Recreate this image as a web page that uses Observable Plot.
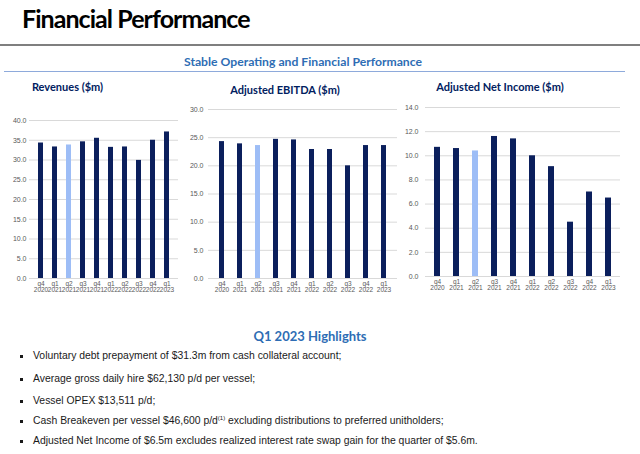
<!DOCTYPE html>
<html>
<head>
<meta charset="utf-8">
<script src="https://cdn.jsdelivr.net/npm/d3@7"></script>
<script src="https://cdn.jsdelivr.net/npm/@observablehq/plot@0.6"></script>
<style>
  html, body { margin: 0; padding: 0; background: #fff; }
  #page { position: relative; width: 640px; height: 454px; overflow: hidden; background: #fff; font-family: "Liberation Sans", Arial, sans-serif; }
  .abs { position: absolute; white-space: nowrap; }
  .cal { font-family: Lato, "Open Sans", sans-serif; font-weight: 700; }
  .chart { position: absolute; }
  .bullet { position: absolute; left: 20px; width: 3px; height: 3px; background: #1a1a1a; }
  .btext { position: absolute; left: 33px; font-size: 10.4px; color: #1a1a1a; white-space: nowrap; }
</style>
</head>
<body>
<div id="page">
  <div class="abs cal" id="title" style="left:22px; top:3px; font-size:25px; color:#000; letter-spacing:-0.95px;">Financial Performance</div>
  <div class="abs" style="left:0; top:44px; width:640px; height:1.5px; background:#7f7f7f;"></div>
  <div class="abs cal" style="left:103px; width:400px; text-align:center; top:54px; font-size:12.2px; color:#2e6db4;">Stable Operating and Financial Performance</div>
  <div class="abs" style="left:4px; top:71px; width:621px; height:1px; background:#8eaadb;"></div>

  <div class="abs cal" style="left:0; width:135px; text-align:center; top:80px; font-size:11px; color:#002060;">Revenues ($m)</div>
  <div class="abs cal" style="left:185px; width:200px; text-align:center; top:83px; font-size:11px; color:#002060;">Adjusted EBITDA ($m)</div>
  <div class="abs cal" style="left:400px; width:200px; text-align:center; top:80px; font-size:11px; color:#002060;">Adjusted Net Income ($m)</div>

  <div class="chart" id="c1" style="left:0; top:100px;"></div>
  <div class="chart" id="c2" style="left:185px; top:100px;"></div>
  <div class="chart" id="c3" style="left:400px; top:100px;"></div>

  <div class="abs cal" style="left:210px; width:200px; text-align:center; top:328px; font-size:13px; color:#2e6db4;">Q1 2023 Highlights</div>
  <div id="bullets"></div>
</div>
<script>
// ---- data ----
const quarters = ["q4 2020", "q1 2021", "q2 2021", "q3 2021", "q4 2021", "q1 2022", "q2 2022", "q3 2022", "q4 2022", "q1 2023"];
const revenues = [34.3, 33.3, 33.8, 34.6, 35.5, 33.2, 33.3, 29.9, 35.0, 37.1];
const ebitda = [24.3, 23.9, 23.6, 24.7, 24.6, 22.9, 22.9, 20.0, 23.6, 23.6];
const netIncome = [10.7, 10.6, 10.4, 11.6, 11.4, 10.0, 9.1, 4.5, 7.0, 6.5];
const highlightQuarter = "q2 2021";
const revTicks = [0, 5, 10, 15, 20, 25, 30, 35, 40];
const ebitdaTicks = [0, 5, 10, 15, 20, 25, 30];
const niTicks = [0, 2, 4, 6, 8, 10, 12, 14];
const highlights = [
  "Voluntary debt prepayment of $31.3m from cash collateral account;",
  "Average gross daily hire $62,130 p/d per vessel;",
  "Vessel OPEX $13,511 p/d;",
  "Cash Breakeven per vessel $46,600 p/d<sup>(1)</sup> excluding distributions to preferred unitholders;",
  "Adjusted Net Income of $6.5m excludes realized interest rate swap gain for the quarter of $5.6m."
];

const NAVY = "#0b1f5c";
const LIGHT = "#9dbdf6";
const GRID = "#d9d9d9";

function makeChart(values, ticks, o) {
  const data = quarters.map((q, i) => ({q, v: values[i]}));
  const pi = o.pi;
  return Plot.plot({
    width: o.width, height: o.height,
    marginLeft: o.ml, marginRight: o.mr, marginTop: o.mt, marginBottom: o.mb,
    style: {fontFamily: '"Liberation Sans", Arial, sans-serif', fontSize: "7px", color: "#595959", background: "transparent", overflow: "visible"},
    x: {domain: quarters, paddingInner: pi, paddingOuter: pi / 2, axis: null},
    y: {domain: [0, ticks[ticks.length - 1]], axis: null},
    marks: [
      Plot.gridY(ticks, {stroke: GRID, strokeOpacity: 1, strokeWidth: 1}),
      Plot.barY(data.filter(d => d.q !== highlightQuarter), {x: "q", y: "v", fill: NAVY}),
      Plot.barY(data.filter(d => d.q === highlightQuarter), {x: "q", y: "v", fill: LIGHT}),
      Plot.axisY(ticks, {tickSize: 0, tickPadding: o.tp, tickFormat: d3.format(".1f"), label: null, fill: "#595959", fontSize: 7}),
      Plot.axisX({tickSize: 0, tickPadding: 2.5, tickFormat: d => d.replace(" ", "\n"), label: null, fill: "#595959", fontSize: 6.5, lineHeight: 1})
    ]
  });
}

document.getElementById("c1").appendChild(makeChart(revenues, revTicks, {width: 185, height: 200, ml: 29, mr: 7, mt: 20, mb: 22, pi: 0.66, tp: 3}));
document.getElementById("c2").appendChild(makeChart(ebitda, ebitdaTicks, {width: 215, height: 200, ml: 23, mr: 3, mt: 9, mb: 22, pi: 0.7, tp: 5}));
document.getElementById("c3").appendChild(makeChart(netIncome, niTicks, {width: 240, height: 200, ml: 25, mr: 20, mt: 7, mb: 24, pi: 0.69, tp: 7}));

const tops = [350, 373, 395, 415, 435];
const b = document.getElementById("bullets");
highlights.forEach((t, i) => {
  const sq = document.createElement("div");
  sq.className = "bullet";
  sq.style.top = (tops[i] + 5) + "px";
  b.appendChild(sq);
  const tx = document.createElement("div");
  tx.className = "btext";
  tx.style.top = tops[i] + "px";
  tx.innerHTML = t.replace("<sup>", '<sup style="font-size:6px; vertical-align:4px;">');
  b.appendChild(tx);
});
</script>
</body>
</html>
